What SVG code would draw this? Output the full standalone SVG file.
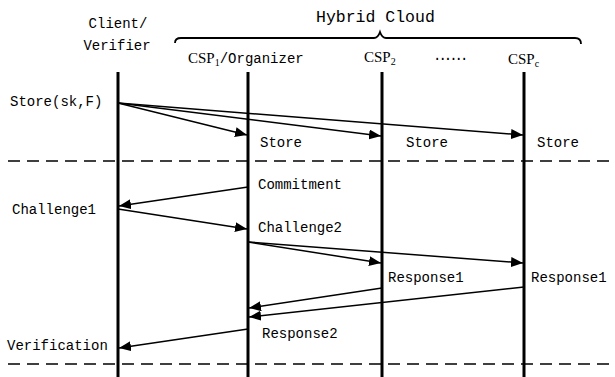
<svg xmlns="http://www.w3.org/2000/svg" width="615" height="377" viewBox="0 0 615 377">
<defs>
<marker id="ah" viewBox="0 0 12 10" refX="12" refY="5" markerWidth="12" markerHeight="10" markerUnits="userSpaceOnUse" orient="auto">
<path d="M0,0 L12,5 L0,10 Z" fill="#000"/>
</marker>
<style>
.t{font-family:"Liberation Mono",monospace;font-size:14px;fill:#000}
.s{font-family:"Liberation Serif",serif;font-size:15px;fill:#000}
.sub{font-family:"Liberation Serif",serif;font-size:10px;fill:#000}
.life{stroke:#000;stroke-width:3;fill:none}
.dash{stroke:#000;stroke-width:1.6;stroke-dasharray:12 7;fill:none}
.msg{stroke:#000;stroke-width:1.5;fill:none;marker-end:url(#ah)}
.ln{stroke:#000;stroke-width:1.5;fill:none}
</style>
</defs>
<rect width="615" height="377" fill="#fff"/>

<g id="header">
<text class="t" x="316" y="22" style="font-size:16.5px">Hybrid Cloud</text>
<path d="M175,43 Q175,38 181,38 L374,38 Q378,38 380,32 Q382,38 386,38 L575,38 Q581,38 581,44" stroke="#000" stroke-width="1.8" fill="none"/>
</g>

<g id="client">
<text class="t" x="118" y="28" text-anchor="middle">Client/</text>
<text class="t" x="117" y="50" text-anchor="middle">Verifier</text>
<line class="life" x1="118" y1="72" x2="118" y2="377"/>
</g>

<g id="csp1">
<text x="188" y="63"><tspan class="s">CSP</tspan><tspan class="sub" dy="3">1</tspan><tspan class="t" dy="-3">/Organizer</tspan></text>
<line class="life" x1="248" y1="72" x2="248" y2="377"/>
</g>

<g id="csp2">
<text x="364" y="62"><tspan class="s">CSP</tspan><tspan class="sub" dy="3">2</tspan></text>
<line class="life" x1="382" y1="72" x2="382" y2="377"/>
</g>

<g id="dots">
<text class="t" x="433" y="60" style="letter-spacing:-3px">......</text>
</g>

<g id="cspc">
<text x="508" y="64"><tspan class="s">CSP</tspan><tspan class="sub" dy="3">c</tspan></text>
<line class="life" x1="524" y1="72" x2="524" y2="377"/>
</g>

<g id="separators">
<line class="dash" x1="8" y1="161" x2="615" y2="161"/>
<line class="dash" x1="8" y1="364" x2="615" y2="364"/>
</g>

<g id="labels">
<text class="t" x="10" y="106">Store(sk,F)</text>
<text class="t" x="260" y="147">Store</text>
<text class="t" x="406" y="147">Store</text>
<text class="t" x="537" y="147">Store</text>
<text class="t" x="258" y="189">Commitment</text>
<text class="t" x="12" y="214">Challenge1</text>
<text class="t" x="258" y="232">Challenge2</text>
<text class="t" x="388" y="282">Response1</text>
<text class="t" x="531" y="282">Response1</text>
<text class="t" x="262" y="338">Response2</text>
<text class="t" x="7" y="350">Verification</text>
</g>

<g id="connectors">
<line class="msg" x1="118" y1="103" x2="247" y2="135"/>
<line class="msg" x1="118" y1="103" x2="381" y2="136"/>
<line class="msg" x1="118" y1="103" x2="523" y2="135"/>
<line class="msg" x1="248" y1="187" x2="119" y2="206"/>
<line class="msg" x1="118" y1="209" x2="247" y2="229"/>
<line class="msg" x1="248" y1="242" x2="381" y2="263"/>
<line class="msg" x1="248" y1="242" x2="523" y2="263"/>
<line class="msg" x1="382" y1="288" x2="249" y2="308"/>
<line class="msg" x1="524" y1="287" x2="249" y2="317"/>
<line class="msg" x1="248" y1="329" x2="119" y2="348"/>
</g>
</svg>
